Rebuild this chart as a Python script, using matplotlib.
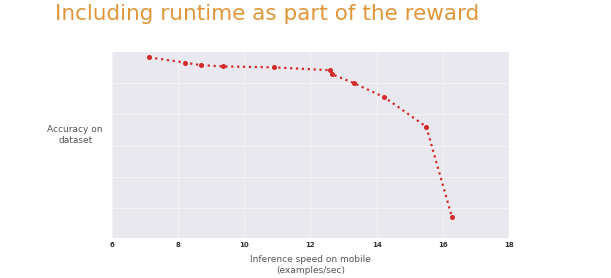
import matplotlib
matplotlib.use("Agg")
import matplotlib.pyplot as plt

# speed (examples/sec) vs accuracy (arbitrary units, no y labels in source)
speed = [7.13, 8.22, 8.70, 9.37, 10.91, 12.59, 12.66, 13.33, 14.23, 15.50, 16.28]
accuracy = [5.81, 5.64, 5.56, 5.52, 5.49, 5.40, 5.27, 4.98, 4.54, 3.60, 0.71]
xticks = [6, 8, 10, 12, 14, 16, 18]
yticks = [1, 2, 3, 4, 5]

fig = plt.figure(figsize=(6.11, 2.78), dpi=100)
fig.patch.set_facecolor("white")
ax = fig.add_axes([0.1833, 0.1439, 0.6497, 0.669])
ax.set_facecolor("#E8E8EE")
for s in ax.spines.values():
    s.set_visible(False)
ax.grid(True, color="#F4F4F7", linewidth=0.7)
ax.set_axisbelow(True)

ax.plot(speed, accuracy, linestyle=":", color="#D42A2A", linewidth=1.6,
        marker="o", markersize=2.6)

ax.set_xlim(6, 18)
ax.set_ylim(0.054, 5.98)
ax.set_xticks(xticks)
ax.set_xticklabels([str(t) for t in xticks], fontsize=5, fontweight="bold", color="#333333")
ax.set_yticks(yticks)
ax.set_yticklabels([])
ax.tick_params(length=0, pad=3)

ax.set_xlabel("Inference speed on mobile\n(examples/sec)", fontsize=6.5, color="#555555",
              labelpad=5, linespacing=1.2)
fig.text(0.123, 0.515, "Accuracy on\ndataset", fontsize=6.5, color="#555555",
         ha="center", va="center", linespacing=1.2)

fig.text(0.437, 0.95, "Including runtime as part of the reward", fontsize=15.5,
         color="#E0963A", ha="center", va="center", family="DejaVu Sans")

fig.savefig("out.png", dpi=100)
